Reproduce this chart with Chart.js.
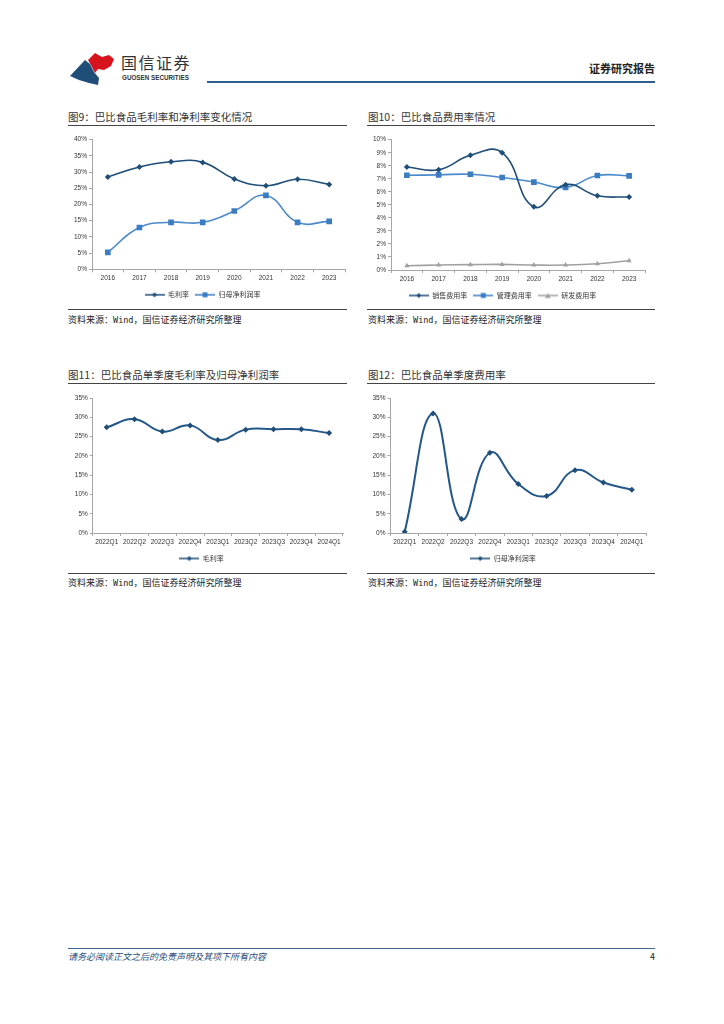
<!DOCTYPE html>
<html>
<head>
<meta charset="utf-8">
<script src="https://cdn.jsdelivr.net/npm/chart.js@4.4.1/dist/chart.umd.min.js"></script>
<style>
  body { margin: 0; background: #fff; width: 724px; height: 1024px; position: relative; overflow: hidden;
         font-family: "Noto Sans CJK SC", "Liberation Sans", sans-serif; color: #222; }
  .abs { position: absolute; white-space: nowrap; }
  .title { font-size: 10.5px; line-height: 12px; color: #333; }
  .rule { height: 1px; background: #444; }
  .src { font-size: 9px; line-height: 11px; color: #222; }
  .mono { font-family: "DejaVu Sans Mono", monospace; font-size: 8.5px; }
  canvas { position: absolute; }
</style>
</head>
<body>

<!-- header -->
<svg class="abs" style="left:68px;top:50px" width="50" height="38" viewBox="0 0 50 38">
  <path d="M20 10 L27 3 L34 7 L41 5 L46 9 L43 16 L36 20 L30 19 L27 23 L24 17 Z" fill="#d7141e"/>
  <path d="M2 26 L17 10 L22 14 L26 22 L31 28 L30 35 L21 33 L11 30 Z" fill="#1f4e79"/>
</svg>
<div class="abs" style="left:121px;top:52px;font-size:16px;line-height:20px;letter-spacing:1.5px;color:#333">国信证券</div>
<div class="abs" style="left:122px;top:74px;font-size:6.3px;line-height:7px;font-weight:bold;color:#333;font-family:'Liberation Sans',sans-serif">GUOSEN SECURITIES</div>
<div class="abs" style="left:207px;top:81px;width:448px;height:2px;background:#2e5e8e"></div>
<div class="abs" style="left:575px;top:61px;width:80px;text-align:right;font-size:11px;line-height:14px;font-weight:bold;color:#222">证券研究报告</div>

<!-- titles -->
<div class="abs title" style="left:68px;top:111px">图9：巴比食品毛利率和净利率变化情况</div>
<div class="abs rule" style="left:68px;top:125px;width:279px"></div>
<div class="abs title" style="left:368px;top:111px">图10：巴比食品费用率情况</div>
<div class="abs rule" style="left:367px;top:125px;width:288px"></div>
<div class="abs title" style="left:68px;top:369px">图11：巴比食品单季度毛利率及归母净利润率</div>
<div class="abs rule" style="left:68px;top:383px;width:279px"></div>
<div class="abs title" style="left:368px;top:369px">图12：巴比食品单季度费用率</div>
<div class="abs rule" style="left:367px;top:383px;width:288px"></div>

<canvas id="c9"></canvas>
<canvas id="c10"></canvas>
<canvas id="c11"></canvas>
<canvas id="c12"></canvas>

<!-- sources -->
<div class="abs rule" style="left:68px;top:309px;width:279px"></div>
<div class="abs src" style="left:68px;top:314px">资料来源：<span class="mono">Wind</span>，国信证券经济研究所整理</div>
<div class="abs rule" style="left:367px;top:309px;width:288px"></div>
<div class="abs src" style="left:368px;top:314px">资料来源：<span class="mono">Wind</span>，国信证券经济研究所整理</div>
<div class="abs rule" style="left:68px;top:573px;width:279px"></div>
<div class="abs src" style="left:68px;top:577px">资料来源：<span class="mono">Wind</span>，国信证券经济研究所整理</div>
<div class="abs rule" style="left:367px;top:573px;width:288px"></div>
<div class="abs src" style="left:368px;top:577px">资料来源：<span class="mono">Wind</span>，国信证券经济研究所整理</div>

<!-- footer -->
<div class="abs" style="left:68px;top:948px;width:587px;height:1px;background:#3b6a98"></div>
<div class="abs" style="left:68px;top:951px;font-size:9px;line-height:11px;font-style:italic;color:#1f4e79">请务必阅读正文之后的免责声明及其项下所有内容</div>
<div class="abs" style="left:645px;top:951px;width:10px;text-align:right;font-size:9px;line-height:11px;color:#222">4</div>

<script>
// annual data
const years = ['2016', '2017', '2018', '2019', '2020', '2021', '2022', '2023'];
const grossMargin = [28.5, 31.6, 33.2, 33.0, 27.9, 25.8, 27.8, 26.2];
const netMargin = [5.2, 12.9, 14.5, 14.5, 18.0, 22.8, 14.5, 14.8];
const salesRate = [7.9, 7.7, 8.8, 9.0, 4.85, 6.55, 5.7, 5.6];
const adminRate = [7.27, 7.3, 7.35, 7.1, 6.75, 6.33, 7.25, 7.22];
const rdRate = [0.33, 0.38, 0.41, 0.43, 0.38, 0.38, 0.48, 0.71];

// quarterly data
const quarters = ['2022Q1', '2022Q2', '2022Q3', '2022Q4', '2023Q1', '2023Q2', '2023Q3', '2023Q4', '2024Q1'];
const qGrossMargin = [27.4, 29.5, 26.3, 27.9, 24.1, 26.8, 26.9, 26.9, 25.9];
const qNetMargin = [0.3, 31.0, 3.6, 20.8, 12.7, 9.6, 16.3, 13.1, 11.2];

const NAVY = '#1f4e79';
const BLUE = '#3c7dc2';
const GRAY = '#a0a0a0';
const AXIS = '#a6a6a6';

Chart.defaults.font.family = '"Liberation Sans", "Noto Sans CJK SC", sans-serif';

// small line+marker picture for the legend
function legendIcon(color, shape) {
    const c = document.createElement('canvas');
    c.width = 20; c.height = 8;
    const g = c.getContext('2d');
    g.strokeStyle = color; g.fillStyle = color; g.lineWidth = 1.5;
    g.beginPath(); g.moveTo(0, 4); g.lineTo(20, 4); g.stroke();
    g.beginPath();
    if (shape === 'rect') {
        g.rect(7.5, 1.5, 5, 5);
    } else if (shape === 'triangle') {
        g.moveTo(10, 1.5); g.lineTo(13, 6.5); g.lineTo(7, 6.5); g.closePath();
    } else {
        g.moveTo(10, 1.5); g.lineTo(12.5, 4); g.lineTo(10, 6.5); g.lineTo(7.5, 4); g.closePath();
    }
    g.fill();
    return c;
}

// force the legend box to a fixed height
function legendHeight(h) {
    return {
        id: 'legendHeight',
        beforeInit(chart) {
            const fit = chart.legend.fit;
            chart.legend.fit = function () { fit.call(this); this.height = h; };
        }
    };
}

function build(id, box, area, labels, series, yMax, yStep) {
    const cv = document.getElementById(id);
    cv.width = box.w; cv.height = box.h;
    cv.style.left = box.x + 'px'; cv.style.top = box.y + 'px';
    const xh = 16, lh = 16;
    const icons = series.map(s => legendIcon(s.color, s.shape));

    new Chart(cv, {
        type: 'line',
        data: {
            labels: labels,
            datasets: series.map(s => ({
                label: s.label,
                data: s.data,
                borderColor: s.lineColor || s.color,
                backgroundColor: s.color,
                pointBackgroundColor: s.color,
                pointBorderColor: s.color,
                pointStyle: s.shape,
                pointRadius: s.r,
                pointBorderWidth: 0,
                borderWidth: s.lw || 1.6,
                tension: 0.45,
                fill: false
            }))
        },
        options: {
            responsive: false,
            animation: false,
            devicePixelRatio: 1,
            layout: {
                padding: {
                    left: 0,
                    top: area.top - box.y,
                    right: box.x + box.w - area.right,
                    bottom: box.y + box.h - area.bottom - xh - lh
                }
            },
            scales: {
                x: {
                    offset: true,
                    grid: { display: true, drawOnChartArea: false, offset: true, tickLength: 3, color: AXIS },
                    border: { color: AXIS },
                    ticks: { font: { size: 6.5 }, color: '#333', padding: 2, maxRotation: 0, autoSkip: false },
                    afterFit: s => { s.height = xh; }
                },
                y: {
                    min: 0,
                    max: yMax,
                    grid: { drawOnChartArea: false, tickLength: 3, color: AXIS },
                    border: { color: AXIS },
                    ticks: { stepSize: yStep, callback: v => v + '%', font: { size: 6.5 }, color: '#333', padding: 2 },
                    afterFit: s => { s.width = area.left - box.x; }
                }
            },
            plugins: {
                legend: {
                    position: 'bottom',
                    labels: {
                        usePointStyle: true,
                        pointStyleWidth: 20,
                        boxHeight: 6,
                        padding: 6,
                        color: '#333',
                        font: { size: 7, family: '"Noto Sans CJK SC", sans-serif' },
                        generateLabels: chart => chart.data.datasets.map((ds, i) => ({
                            text: ds.label,
                            pointStyle: icons[i],
                            datasetIndex: i,
                            hidden: false,
                            fontColor: '#333',
                            lineWidth: 0,
                            strokeStyle: 'rgba(0,0,0,0)',
                            fillStyle: 'rgba(0,0,0,0)'
                        }))
                    }
                },
                tooltip: { enabled: false }
            }
        },
        plugins: [legendHeight(lh)]
    });
}

build('c9', { x: 60, y: 130, w: 292, h: 172 }, { left: 92, top: 139.7, right: 345, bottom: 269.3 },
    years, [
        { label: '毛利率', data: grossMargin, color: NAVY, shape: 'rectRot', r: 3 },
        { label: '归母净利润率', data: netMargin, color: BLUE, lineColor: '#4a8acb', shape: 'rect', r: 4 }
    ], 40, 5);

build('c10', { x: 360, y: 130, w: 292, h: 172 }, { left: 391, top: 139.7, right: 645, bottom: 270 },
    years, [
        { label: '销售费用率', data: salesRate, color: NAVY, shape: 'rectRot', r: 3 },
        { label: '管理费用率', data: adminRate, color: BLUE, lineColor: '#4a8acb', shape: 'rect', r: 4 },
        { label: '研发费用率', data: rdRate, color: GRAY, shape: 'triangle', r: 3 }
    ], 10, 1);

build('c11', { x: 60, y: 390, w: 292, h: 176 }, { left: 92.8, top: 398, right: 343, bottom: 533 },
    quarters, [
        { label: '毛利率', data: qGrossMargin, color: NAVY, lineColor: '#25588a', shape: 'rectRot', r: 3, lw: 2 }
    ], 35, 5);

build('c12', { x: 360, y: 390, w: 292, h: 176 }, { left: 390.5, top: 398, right: 646, bottom: 533 },
    quarters, [
        { label: '归母净利润率', data: qNetMargin, color: NAVY, lineColor: '#25588a', shape: 'rectRot', r: 3, lw: 2 }
    ], 35, 5);
</script>
</body>
</html>
